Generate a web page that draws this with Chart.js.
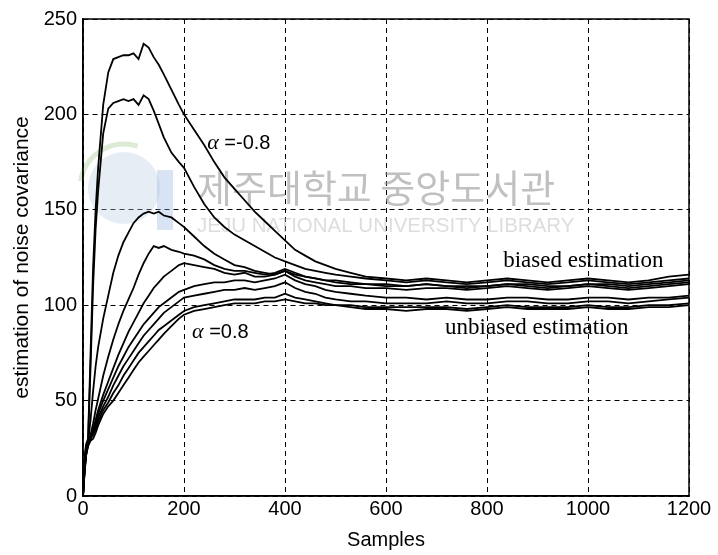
<!DOCTYPE html>
<html>
<head>
<meta charset="utf-8">
<script src="https://cdn.jsdelivr.net/npm/chart.js@4.4.0/dist/chart.umd.min.js"></script>
<style>
  html, body { margin: 0; padding: 0; background: #fff; }
</style>
</head>
<body>
<canvas id="c" width="718" height="555"></canvas>
<script>
// sample index (x axis)
const samples = [0, 3, 6, 10, 15, 20, 25, 30, 40, 50, 60, 70, 80, 90, 100, 110, 120, 130, 140, 150, 160,
  175, 190, 200, 220, 240, 260, 280, 300, 320, 340, 360, 380, 400, 420, 440, 460, 480, 500,
  530, 560, 600, 640, 680, 720, 760, 800, 840, 880, 920, 960, 1000, 1040, 1080, 1120, 1160, 1200];

const alphas = ['-0.8', '-0.6', '-0.4', '-0.2', '0', '0.2', '0.4', '0.6', '0.8'];

// estimated noise covariance
const covM08 = [0, 20, 27, 30, 75, 120, 150, 172, 205, 222, 229, 230, 231, 231, 232, 229, 237, 235, 230, 226, 221,
  213, 205, 200, 192, 184, 175, 167, 161, 155, 149, 144, 139, 134, 129, 126, 123, 121, 119,
  117, 115, 114, 113, 114, 113, 112, 113, 114, 113, 112, 113, 114, 113, 112, 113, 115, 116];
const covM06 = [0, 18, 26, 29, 68, 110, 140, 160, 190, 203, 206, 207, 208, 207, 208, 205, 210, 208, 202, 195, 188,
  180, 175, 172, 162, 153, 146, 141, 137, 134, 131, 128, 125, 123, 121, 119, 118, 117, 116,
  115, 114, 113, 112, 113, 112, 111, 112, 113, 112, 111, 112, 113, 112, 111, 112, 113, 114];
const covM04 = [0, 15, 24, 28, 40, 55, 68, 78, 93, 105, 117, 126, 133, 138, 143, 146, 148, 149, 148, 149, 147,
  146, 143, 141, 136, 131, 127, 124, 121, 120, 118, 117, 116, 118, 116, 115, 114, 113, 113,
  112, 111, 111, 110, 111, 110, 109, 110, 111, 110, 109, 110, 111, 110, 109, 110, 111, 112];
const covM02 = [0, 14, 23, 27, 32, 38, 45, 51, 63, 73, 82, 90, 97, 103, 109, 116, 122, 127, 131, 130, 131,
  129, 128, 127, 126, 124, 121, 119, 118, 118, 117, 116, 117, 119, 117, 115, 114, 113, 112,
  111, 111, 110, 110, 111, 110, 110, 110, 111, 111, 110, 110, 111, 111, 110, 111, 112, 113];
const cov00 = [0, 14, 23, 27, 31, 35, 40, 45, 53, 60, 67, 74, 80, 86, 91, 96, 101, 105, 109, 112, 115,
  118, 121, 122, 121, 120, 119, 117, 116, 117, 115, 115, 116, 118, 115, 113, 112, 111, 110,
  110, 109, 109, 108, 109, 109, 108, 109, 110, 109, 108, 109, 110, 109, 108, 109, 110, 111];
const covP02 = [0, 13, 22, 27, 31, 34, 38, 43, 50, 56, 62, 68, 73, 78, 82, 86, 90, 93, 96, 99, 101,
  104, 107, 108, 110, 111, 112, 112, 113, 113, 112, 113, 114, 116, 113, 111, 110, 108, 107,
  106, 105, 104, 104, 103, 104, 103, 103, 104, 104, 103, 103, 104, 104, 103, 104, 104, 105];
const covP04 = [0, 13, 22, 27, 30, 33, 37, 41, 47, 52, 58, 63, 68, 72, 76, 80, 84, 87, 90, 93, 96,
  99, 102, 104, 105, 106, 107, 108, 108, 109, 108, 109, 110, 112, 109, 107, 106, 104, 103,
  102, 102, 101, 101, 101, 102, 101, 101, 102, 102, 101, 101, 102, 102, 101, 102, 103, 104];
const covP06 = [0, 12, 21, 27, 30, 32, 35, 39, 45, 49, 54, 58, 63, 67, 71, 75, 78, 81, 84, 87, 89,
  92, 95, 97, 99, 100, 101, 102, 103, 103, 103, 104, 104, 106, 104, 103, 102, 101, 100,
  100, 99, 99, 99, 99, 99, 98, 99, 100, 99, 99, 99, 100, 99, 99, 100, 100, 101];
const covP08 = [0, 12, 21, 26, 29, 30, 33, 37, 43, 47, 50, 54, 58, 62, 66, 70, 73, 76, 79, 82, 85,
  89, 93, 95, 97, 98, 99, 100, 101, 101, 101, 102, 102, 103, 102, 101, 101, 100, 100,
  99, 98, 98, 97, 98, 98, 97, 98, 99, 98, 98, 98, 99, 98, 98, 99, 99, 100];

const curves = [covM08, covM06, covM04, covM02, cov00, covP02, covP04, covP06, covP08];

const xTicks = [0, 200, 400, 600, 800, 1000, 1200];
const yTicks = [0, 50, 100, 150, 200, 250];

// text labels placed in data units
const notes = [
  { alpha: true, text: ' =-0.8', x: 246, y: 182 },
  { alpha: true, text: ' =0.8', x: 216, y: 83 },
  { alpha: false, text: 'biased estimation', x: 832, y: 120 },
  { alpha: false, text: 'unbiased estimation', x: 717, y: 85 }
];

const sans = '"Liberation Sans", Arial, sans-serif';
const serif = '"Liberation Serif", "Times New Roman", serif';

const frameAndNotes = {
  id: 'frameAndNotes',
  beforeDatasetsDraw(chart) {
    // faint library watermark behind the curves
    const ctx = chart.ctx;
    ctx.save();
    ctx.globalAlpha = 0.35;
    ctx.fillStyle = '#b9cbe3';
    ctx.beginPath();
    ctx.arc(124, 188, 36, 0, Math.PI * 2);
    ctx.fill();
    ctx.lineWidth = 5;
    ctx.strokeStyle = '#9cc48a';
    ctx.beginPath();
    ctx.arc(124, 188, 44, Math.PI * 1.05, Math.PI * 1.6);
    ctx.stroke();
    ctx.fillStyle = '#8fb0dc';
    ctx.fillRect(157, 170, 16, 60);
    ctx.restore();

    ctx.save();
    ctx.fillStyle = 'rgba(150,150,150,0.6)';
    ctx.font = '38px "Noto Sans CJK KR"';
    ctx.textBaseline = 'middle';
    ctx.fillText('제주대학교 중앙도서관', 197, 188);
    ctx.fillStyle = 'rgba(180,180,180,0.45)';
    ctx.font = '20.5px ' + sans;
    ctx.fillText('JEJU NATIONAL UNIVERSITY LIBRARY', 197, 226);
    ctx.restore();
  },
  afterDraw(chart) {
    const { ctx, chartArea: a, scales } = chart;
    ctx.save();
    ctx.strokeStyle = '#000';
    ctx.lineWidth = 1.5;
    ctx.strokeRect(a.left, a.top, a.right - a.left, a.bottom - a.top);

    ctx.fillStyle = '#000';
    ctx.textBaseline = 'alphabetic';
    notes.forEach(n => {
      let px = scales.x.getPixelForValue(n.x);
      const py = scales.y.getPixelForValue(n.y);
      if (n.alpha) {
        ctx.font = 'italic 22px ' + serif;
        ctx.fillText('α', px, py);
        px += ctx.measureText('α').width;
        ctx.font = '20px ' + sans;
        ctx.fillText(n.text, px, py);
      } else {
        ctx.font = '23px ' + serif;
        ctx.fillText(n.text, px, py);
      }
    });
    ctx.restore();
  }
};

const datasets = curves.map((vals, i) => ({
  label: 'α = ' + alphas[i],
  data: samples.map((s, j) => ({ x: s, y: vals[j] })),
  borderColor: '#000',
  borderWidth: 1.8,
  pointRadius: 0,
  tension: 0,
  fill: false
}));

new Chart(document.getElementById('c'), {
  type: 'line',
  data: { datasets },
  plugins: [frameAndNotes],
  options: {
    responsive: false,
    animation: false,
    layout: { padding: { left: 0, right: 29, top: 19, bottom: 0 } },
    plugins: { legend: { display: false }, tooltip: { enabled: false } },
    scales: {
      x: {
        type: 'linear',
        min: 0,
        max: 1200,
        afterBuildTicks: s => { s.ticks = xTicks.map(v => ({ value: v })); },
        afterFit: s => { s.height = 59; },
        ticks: { color: '#000', font: { family: sans, size: 20 }, padding: 1, maxRotation: 0, autoSkip: false,
          callback: v => String(v) },
        grid: { color: '#000', lineWidth: 1, drawTicks: false },
        border: { display: true, color: '#000', width: 1.5, dash: [5, 4] },
        title: { display: true, text: 'Samples', color: '#000', font: { family: sans, size: 20, lineHeight: 1 }, padding: { top: 0, bottom: 5 } }
      },
      y: {
        min: 0,
        max: 250,
        afterBuildTicks: s => { s.ticks = yTicks.map(v => ({ value: v })); },
        afterFit: s => { s.width = 83; },
        ticks: { color: '#000', font: { family: sans, size: 20 }, padding: 6, callback: v => String(v) },
        grid: { color: '#000', lineWidth: 1, drawTicks: false },
        border: { display: true, color: '#000', width: 1.5, dash: [5, 4] },
        title: { display: true, text: 'estimation of noise covariance', color: '#000', font: { family: sans, size: 21, lineHeight: 1 }, padding: { top: 12, bottom: 0 } }
      }
    }
  }
});
</script>
</body>
</html>
